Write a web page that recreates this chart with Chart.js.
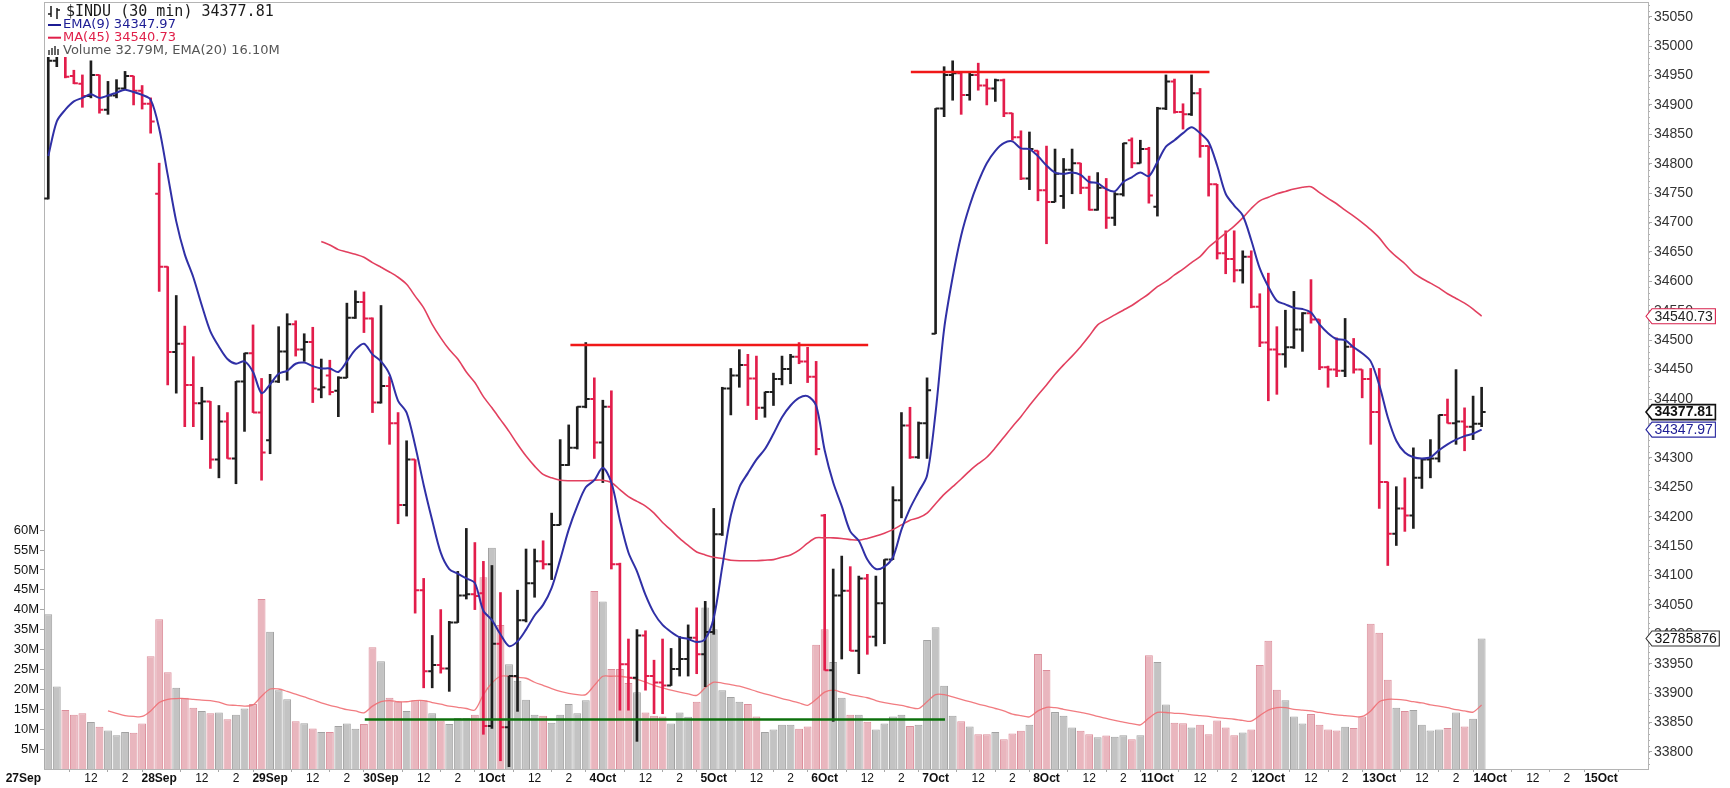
<!DOCTYPE html>
<html>
<head>
<meta charset="utf-8">
<script src="https://cdn.jsdelivr.net/npm/chart.js@4.4.0/dist/chart.umd.min.js"></script>
<style>
  html, body { margin: 0; padding: 0; background: #fff; }
</style>
</head>
<body>
<canvas id="chart" width="1730" height="788"></canvas>
<script>
// 30 min bars, 13 per session
const dayLabels = ["27Sep", "28Sep", "29Sep", "30Sep", "1Oct", "4Oct", "5Oct", "6Oct", "7Oct", "8Oct", "11Oct", "12Oct", "13Oct", "14Oct", "15Oct"];
const barsPerDay = 13;
const hourLabels = [[5, "12"], [9, "2"]];
const slotCount = 188;

const opens = [
  34741, 34975, 34990, 34949, 34936, 34915, 34951, 34892, 34916, 34928, 34949, 34924, 34902,
  34749, 34625, 34480, 34494, 34424, 34393, 34396, 34297, 34362, 34299, 34430, 34478, 34377,
  34330, 34430, 34481, 34527, 34484, 34497, 34416, 34440, 34414, 34436, 34538, 34565, 34537,
  34394, 34422, 34359, 34220, 34297, 34075, 33937, 33948, 33942, 34020, 34066, 34068, 34070,
  33844, 33984, 33842, 33929, 34024, 34087, 34124, 34119, 34186, 34288, 34317, 34387, 34400,
  34326, 34387, 34119, 33949, 33926, 33998, 33929, 33918, 33913, 33941, 33958, 33994, 33966,
  34004, 34170, 34418, 34440, 34458, 34435, 34385, 34412, 34434, 34451, 34472, 34464, 34438,
  34202, 33939, 34066, 34074, 33972, 34095, 33996, 34053, 34127, 34228, 34355, 34301, 34359,
  34511, 34894, 34951, 34954, 34917, 34951, 34933, 34928, 34942, 34886, 34845, 34775, 34822,
  34755, 34735, 34745, 34790, 34801, 34759, 34722, 34759, 34708, 34748, 34840, 34801, 34825,
  34727, 34894, 34940, 34888, 34884, 34920, 34830, 34765, 34648, 34638, 34619, 34642, 34557,
  34496, 34484, 34476, 34488, 34518, 34546, 34535, 34454, 34450, 34448, 34489, 34450, 34434,
  34378, 34259, 34171, 34214, 34202, 34266, 34297, 34299, 34373, 34359, 34362, 34353, 34358
];
const highs = [
  35000, 35010, 34995, 34959, 34951, 34975, 34951, 34940, 34943, 34957, 34949, 34933, 34912,
  34801, 34625, 34576, 34524, 34472, 34420, 34396, 34389, 34377, 34430, 34478, 34526, 34435,
  34442, 34523, 34545, 34533, 34511, 34522, 34468, 34466, 34438, 34563, 34584, 34582, 34538,
  34559, 34438, 34377, 34329, 34297, 34095, 33998, 34042, 34022, 34107, 34180, 34156, 34124,
  34117, 34071, 33929, 34075, 34145, 34145, 34159, 34206, 34331, 34356, 34387, 34496, 34436,
  34398, 34414, 34121, 33992, 34008, 34006, 33956, 33992, 33976, 33996, 34016, 34045, 34056,
  34214, 34420, 34452, 34484, 34476, 34473, 34412, 34444, 34473, 34476, 34496, 34488, 34464,
  34204, 34111, 34133, 34115, 34099, 34102, 34099, 34127, 34251, 34377, 34386, 34361, 34436,
  34894, 34965, 34975, 34954, 34954, 34971, 34944, 34944, 34944, 34886, 34856, 34854, 34822,
  34830, 34825, 34809, 34825, 34801, 34779, 34785, 34775, 34751, 34835, 34844, 34840, 34828,
  34896, 34951, 34944, 34902, 34951, 34928, 34830, 34765, 34686, 34686, 34652, 34652, 34579,
  34614, 34523, 34551, 34583, 34547, 34603, 34535, 34456, 34504, 34537, 34503, 34450, 34452,
  34452, 34259, 34251, 34266, 34317, 34299, 34331, 34373, 34400, 34450, 34385, 34405, 34420
];
const lows = [
  34740, 34965, 34946, 34936, 34896, 34912, 34886, 34884, 34912, 34926, 34900, 34893, 34852,
  34583, 34424, 34410, 34353, 34353, 34331, 34282, 34266, 34299, 34256, 34345, 34377, 34262,
  34307, 34428, 34432, 34473, 34464, 34394, 34402, 34407, 34370, 34436, 34537, 34513, 34377,
  34393, 34323, 34188, 34201, 34036, 33909, 33909, 33934, 33903, 34020, 34060, 34042, 33830,
  33840, 33785, 33775, 33869, 34021, 34063, 34111, 34093, 34186, 34287, 34315, 34385, 34299,
  34258, 34111, 33871, 33871, 33818, 33905, 33865, 33865, 33913, 33929, 33929, 33933, 33911,
  34000, 34168, 34373, 34420, 34389, 34365, 34369, 34389, 34424, 34426, 34460, 34428, 34305,
  33939, 33852, 33958, 33972, 33933, 33966, 33980, 33984, 34127, 34198, 34299, 34299, 34299,
  34511, 34880, 34908, 34884, 34908, 34925, 34900, 34906, 34880, 34840, 34773, 34756, 34737,
  34664, 34735, 34724, 34749, 34749, 34721, 34721, 34690, 34695, 34745, 34793, 34801, 34733,
  34711, 34892, 34886, 34859, 34882, 34811, 34745, 34638, 34613, 34599, 34597, 34555, 34489,
  34397, 34408, 34454, 34486, 34481, 34529, 34450, 34420, 34438, 34438, 34444, 34402, 34323,
  34214, 34117, 34151, 34175, 34180, 34248, 34266, 34293, 34359, 34323, 34312, 34331, 34353
];
const closes = [
  34975, 34990, 34948, 34937, 34915, 34951, 34892, 34916, 34928, 34949, 34924, 34902, 34872,
  34625, 34480, 34494, 34424, 34393, 34396, 34297, 34362, 34299, 34430, 34478, 34377, 34309,
  34430, 34481, 34527, 34484, 34497, 34418, 34420, 34412, 34436, 34538, 34565, 34537, 34394,
  34422, 34359, 34220, 34297, 34075, 33937, 33948, 33942, 34020, 34066, 34068, 34065, 33844,
  33984, 33842, 33929, 34024, 34087, 34124, 34119, 34186, 34288, 34317, 34387, 34400, 34326,
  34387, 34119, 33949, 33926, 33998, 33929, 33918, 33913, 33941, 33958, 33994, 33966, 34004,
  34170, 34418, 34440, 34458, 34435, 34385, 34412, 34434, 34451, 34472, 34464, 34438, 34315,
  33939, 34066, 34074, 33972, 34095, 33996, 34053, 34127, 34228, 34355, 34301, 34359, 34415,
  34894, 34951, 34954, 34917, 34951, 34933, 34928, 34942, 34886, 34845, 34775, 34825, 34755,
  34735, 34783, 34790, 34801, 34759, 34722, 34759, 34708, 34748, 34835, 34801, 34825, 34746,
  34894, 34940, 34888, 34884, 34920, 34830, 34765, 34648, 34638, 34619, 34642, 34557, 34496,
  34484, 34476, 34488, 34518, 34546, 34535, 34454, 34450, 34448, 34489, 34450, 34434, 34378,
  34259, 34171, 34214, 34202, 34266, 34297, 34299, 34373, 34359, 34362, 34353, 34358, 34377.81
];
// volume in millions of shares
const volumes = [
  38.9, 20.7, 14.8, 13.6, 14.0, 11.8, 10.6, 9.7, 8.5, 9.3, 9.1, 11.4, 28.3,
  37.6, 24.3, 20.4, 17.9, 15.4, 14.6, 14.0, 14.2, 12.5, 13.6, 15.2, 16.3, 42.7,
  34.5, 19.8, 17.5, 12.0, 11.5, 10.2, 9.3, 9.3, 10.8, 11.4, 10.1, 11.3, 30.6,
  27.1, 17.9, 16.9, 14.6, 17.3, 17.3, 14.0, 12.2, 11.3, 12.8, 12.8, 13.6, 48.2,
  55.6, 36.2, 26.3, 22.2, 17.4, 13.6, 13.4, 11.6, 13.6, 16.3, 14.0, 17.3, 44.7,
  42.1, 25.1, 25.1, 21.6, 19.3, 14.2, 13.4, 13.2, 11.4, 14.2, 13.1, 16.9, 40.6,
  35.1, 19.8, 18.1, 16.9, 16.3, 13.2, 9.3, 9.9, 11.1, 11.1, 10.1, 10.7, 31.2,
  35.1, 26.9, 17.9, 13.6, 13.6, 11.9, 9.9, 11.4, 13.2, 13.6, 10.8, 11.1, 32.4,
  35.6, 20.9, 13.4, 12.0, 10.7, 8.7, 8.7, 9.3, 7.5, 8.9, 9.6, 11.1, 28.9,
  24.9, 14.3, 13.4, 10.4, 9.6, 8.7, 8.0, 8.4, 8.1, 8.5, 7.5, 8.5, 28.6,
  26.9, 16.2, 11.6, 11.5, 10.4, 11.1, 8.7, 12.2, 10.4, 8.5, 9.2, 9.9, 26.1,
  32.2, 19.9, 17.3, 13.2, 11.4, 13.8, 11.1, 9.9, 9.7, 10.6, 10.3, 13.2, 36.5,
  34.2, 22.4, 15.4, 14.6, 14.8, 11.1, 9.7, 9.9, 10.3, 14.2, 10.7, 12.6, 32.785876
];
const ema9 = [
  34813, 34872, 34892, 34906, 34912, 34918, 34912, 34916, 34921, 34926, 34922, 34917, 34909,
  34860, 34781, 34702, 34646, 34607, 34559, 34515, 34489, 34468, 34460, 34464, 34446, 34410,
  34425, 34443, 34448, 34460, 34462, 34456, 34452, 34452, 34446, 34464, 34484, 34494, 34476,
  34464, 34442, 34397, 34377, 34321, 34254, 34194, 34139, 34111, 34103, 34095, 34087, 34040,
  34024, 34000, 33980, 33988, 34008, 34032, 34050, 34079, 34127, 34178, 34218, 34250, 34262,
  34283, 34258, 34194, 34139, 34107, 34067, 34036, 34016, 34004, 33995, 33992, 33987, 33992,
  34028, 34115, 34202, 34250, 34274, 34297, 34315, 34341, 34369, 34389, 34402, 34405, 34389,
  34313, 34258, 34218, 34175, 34159, 34127, 34111, 34115, 34131, 34178, 34214, 34242, 34270,
  34377, 34519, 34607, 34678, 34729, 34769, 34801, 34822, 34835, 34838, 34826, 34825, 34813,
  34797, 34785, 34783, 34785, 34781, 34769, 34767, 34757, 34753, 34769, 34777, 34785, 34779,
  34803, 34829, 34840, 34852, 34862, 34852, 34837, 34797, 34749, 34729, 34712, 34670, 34622,
  34591, 34567, 34561, 34555, 34553, 34547, 34527, 34512, 34502, 34500, 34488, 34478, 34464,
  34424, 34369, 34329, 34309, 34301, 34299, 34301, 34313, 34323, 34331, 34337, 34341, 34347.97
];
const ma45 = [
  null, null, null, null, null, null, null, null, null, null, null, null, null,
  null, null, null, null, null, null, null, null, null, null, null, null, null,
  null, null, null, null, null, null, 34668, 34662, 34654, 34650, 34646, 34641, 34632,
  34624, 34616, 34607, 34595, 34575, 34555, 34527, 34504, 34484, 34468, 34446, 34428, 34404,
  34385, 34365, 34345, 34323, 34303, 34286, 34272, 34266, 34262, 34261, 34261, 34261, 34262,
  34262, 34258, 34246, 34234, 34226, 34218, 34206, 34190, 34177, 34163, 34151, 34140, 34135,
  34131, 34129, 34126, 34125, 34125, 34125, 34126, 34127, 34131, 34135, 34143, 34155, 34164,
  34164, 34164, 34163, 34161, 34160, 34163, 34167, 34172, 34178, 34186, 34194, 34198, 34206,
  34222, 34238, 34251, 34264, 34278, 34290, 34301, 34317, 34335, 34353, 34370, 34389, 34407,
  34424, 34442, 34458, 34473, 34489, 34507, 34526, 34535, 34543, 34551, 34559, 34569, 34579,
  34591, 34600, 34611, 34621, 34632, 34642, 34658, 34670, 34682, 34694, 34708, 34724, 34737,
  34743, 34749, 34753, 34757, 34760, 34761, 34751, 34741, 34732, 34721, 34711, 34700, 34688,
  34674, 34656, 34642, 34630, 34615, 34605, 34597, 34589, 34579, 34571, 34563, 34553, 34540.73
];
const volEma20 = [
  null, null, null, null, null, null, null, 14.6, 14.0, 13.4, 13.2, 13.2, 14.6,
  16.7, 17.5, 17.7, 17.7, 17.5, 17.3, 17.2, 16.8, 16.1, 16.0, 15.8, 16.1, 18.3,
  20.1, 20.1, 19.5, 18.8, 18.1, 17.4, 16.6, 16.0, 15.5, 14.9, 14.6, 14.1, 15.8,
  16.9, 17.2, 16.9, 16.9, 17.2, 17.2, 16.7, 16.3, 15.8, 15.5, 15.2, 14.8, 18.7,
  21.6, 23.3, 23.3, 23.0, 22.8, 21.8, 21.0, 20.2, 19.5, 19.0, 18.7, 18.7, 21.0,
  23.3, 23.3, 23.3, 23.0, 22.5, 21.8, 21.0, 20.4, 19.8, 19.3, 18.9, 18.5, 20.4,
  21.8, 21.6, 21.2, 20.8, 20.2, 19.5, 18.9, 18.3, 17.7, 17.2, 16.6, 16.0, 17.5,
  19.3, 19.8, 19.3, 18.7, 18.3, 17.9, 17.2, 16.7, 16.3, 16.0, 15.5, 15.2, 16.9,
  18.7, 18.7, 18.1, 17.5, 16.9, 16.3, 15.8, 15.2, 14.6, 13.8, 13.4, 13.1, 14.6,
  15.5, 15.4, 15.0, 14.6, 14.2, 13.8, 13.2, 12.7, 12.2, 11.8, 11.4, 11.1, 12.8,
  14.2, 14.2, 14.0, 13.9, 13.6, 13.4, 13.2, 12.9, 12.7, 12.5, 12.2, 12.0, 13.4,
  14.8, 15.4, 15.4, 15.0, 14.8, 14.6, 14.2, 13.9, 13.6, 13.4, 13.2, 13.2, 14.6,
  16.9, 17.5, 17.5, 17.3, 16.9, 16.6, 16.1, 15.8, 15.4, 14.9, 14.6, 14.3, 16.10
];

const priceTicks = [33800, 33850, 33900, 33950, 34000, 34050, 34100, 34150, 34200, 34250, 34300, 34350, 34400,
  34450, 34500, 34550, 34600, 34650, 34700, 34750, 34800, 34850, 34900, 34950, 35000, 35050];
const volumeTicks = [5, 10, 15, 20, 25, 30, 35, 40, 45, 50, 55, 60];

// drawn trend lines: [bar, price]
const topLine = [[101.1, 34956], [136.1, 34956]];
const midLine = [[61.2, 34492], [96.1, 34492]];
const floorLine = [[37.1, 33855], [105.1, 33855]];

const lastIdx = closes.length - 1;
const barIdx = closes.map((c, i) => i);
const isUp = closes.map((c, i) => i === 0 || c >= closes[i - 1]);
const priceInk = isUp.map(u => u ? "#1e1e1e" : "#e21d4b");
const volFill = isUp.map(u => u ? "#c3c3c3" : "#e9b6be");
const volEdge = isUp.map(u => u ? "#a2a2a2" : "#dc8e9b");
const toPoints = arr => arr.map(p => ({ x: p[0], y: p[1] }));

const xTicks = [];
dayLabels.forEach((day, d) => {
  const first = d * barsPerDay;
  xTicks.push({ value: first, text: day, bold: true });
  hourLabels.forEach(([off, t]) => {
    if (first + off < slotCount - 8) xTicks.push({ value: first + off, text: t, bold: false });
  });
});
xTicks.sort((a, b) => a.value - b.value);

// open / close ticks on the OHLC bars
const ohlcTicks = {
  id: "ohlcTicks",
  afterDatasetDraw(chart, args) {
    if (chart.data.datasets[args.index].label !== "$INDU") return;
    const ctx = chart.ctx, y = chart.scales.yp, area = chart.chartArea;
    ctx.save();
    ctx.beginPath();
    ctx.rect(area.left, area.top, area.right - area.left, area.bottom - area.top);
    ctx.clip();
    ctx.lineWidth = 2;
    args.meta.data.forEach((el, i) => {
      const yo = y.getPixelForValue(opens[i]);
      const yc = y.getPixelForValue(closes[i]);
      ctx.strokeStyle = priceInk[i];
      ctx.beginPath();
      ctx.moveTo(el.x - 4, yo);
      ctx.lineTo(el.x, yo);
      ctx.moveTo(el.x, yc);
      ctx.lineTo(el.x + 4, yc);
      ctx.stroke();
    });
    ctx.restore();
  }
};

function drawFlag(ctx, x, y, text, edge, ink, bold) {
  ctx.font = (bold ? "bold " : "") + "14px 'Liberation Sans'";
  const w = ctx.measureText(text).width + 5;
  const x1 = x + 6, h = 7.5;
  ctx.beginPath();
  ctx.moveTo(x, y);
  ctx.lineTo(x1, y - h);
  ctx.lineTo(x1 + w, y - h);
  ctx.lineTo(x1 + w, y + h);
  ctx.lineTo(x1, y + h);
  ctx.closePath();
  ctx.fillStyle = "#fff";
  ctx.fill();
  ctx.lineWidth = bold ? 1.6 : 1.1;
  ctx.strokeStyle = edge;
  ctx.stroke();
  ctx.fillStyle = ink;
  ctx.textAlign = "left";
  ctx.textBaseline = "middle";
  ctx.fillText(text, x1 + 2.5, y + 0.5);
}

const overlay = {
  id: "overlay",
  afterDraw(chart) {
    const ctx = chart.ctx, a = chart.chartArea;
    const xs = chart.scales.x, yp = chart.scales.yp, yv = chart.scales.yv;
    ctx.save();

    // frame top + minor ticks on price axis
    ctx.strokeStyle = "#b4b4b4";
    ctx.lineWidth = 1;
    ctx.beginPath();
    ctx.moveTo(a.left, a.top + 0.5);
    ctx.lineTo(a.right, a.top + 0.5);
    for (let p = 33780; p <= 35070; p += 10) {
      const py = Math.round(yp.getPixelForValue(p)) + 0.5;
      ctx.moveTo(a.right, py);
      ctx.lineTo(a.right + 2, py);
    }
    ctx.stroke();

    // date / hour labels under the axis
    ctx.fillStyle = "#111";
    ctx.textBaseline = "middle";
    xTicks.forEach(t => {
      ctx.font = (t.bold ? "bold " : "") + "12px 'Liberation Sans'";
      const px = xs.getPixelForValue(t.value);
      const half = ctx.measureText(t.text).width / 2;
      if (px - half < a.left) {
        ctx.textAlign = "right";
        ctx.fillText(t.text, a.left - 3, a.bottom + 10);
      } else {
        ctx.textAlign = "center";
        ctx.fillText(t.text, px, a.bottom + 10);
      }
    });

    // legend block
    const rows = [
      { text: "$INDU (30 min) " + closes[lastIdx], color: "#1a1a1a", font: "15px 'DejaVu Sans Mono'", y: 12.5 },
      { text: "EMA(9) " + ema9[lastIdx].toFixed(2), color: "#1c1c94", font: "13px 'DejaVu Sans'", y: 25 },
      { text: "MA(45) " + ma45[lastIdx].toFixed(2), color: "#e0204a", font: "13px 'DejaVu Sans'", y: 37.7 },
      { text: "Volume " + volumes[lastIdx].toFixed(2) + "M, EMA(20) " + volEma20[lastIdx].toFixed(2) + "M", color: "#555", font: "13px 'DejaVu Sans'", y: 50.5 }
    ];
    ctx.fillStyle = "#fff";
    ctx.fillRect(a.left + 1, 4, 234, 53);
    ctx.textAlign = "left";
    ctx.textBaseline = "middle";
    rows.forEach((r, k) => {
      ctx.font = r.font;
      ctx.fillStyle = r.color;
      ctx.fillText(r.text, k === 0 ? 66 : 63, r.y);
    });
    // row icons
    ctx.strokeStyle = "#1a1a1a";
    ctx.lineWidth = 1.5;
    ctx.beginPath();
    ctx.moveTo(51, 6); ctx.lineTo(51, 17); ctx.moveTo(48, 14); ctx.lineTo(51, 14);
    ctx.moveTo(57, 8); ctx.lineTo(57, 19); ctx.moveTo(57, 10); ctx.lineTo(60, 10);
    ctx.stroke();
    ctx.fillStyle = "#1c1c94";
    ctx.fillRect(48, 24, 13, 2);
    ctx.fillStyle = "#e0204a";
    ctx.fillRect(48, 36.7, 13, 2);
    ctx.fillStyle = "#666";
    [[48, 5], [51, 7], [54, 9], [57, 6]].forEach(([bx, bh]) => ctx.fillRect(bx, 55 - bh, 2, bh));

    // last value flags on the right axis
    const fx = a.right - 2;
    drawFlag(ctx, fx, yv.getPixelForValue(volumes[lastIdx]), String(Math.round(volumes[lastIdx] * 1e6)), "#333", "#111", false);
    drawFlag(ctx, fx, yp.getPixelForValue(ma45[lastIdx]), ma45[lastIdx].toFixed(2), "#d8214c", "#222", false);
    drawFlag(ctx, fx, yp.getPixelForValue(ema9[lastIdx]), ema9[lastIdx].toFixed(2), "#2a2aa0", "#1c1c94", false);
    drawFlag(ctx, fx, yp.getPixelForValue(closes[lastIdx]), closes[lastIdx].toFixed(2), "#111", "#111", true);
    ctx.restore();
  }
};

const ctx = document.getElementById("chart").getContext("2d");
const myChart = new Chart(ctx, {
  type: "bar",
  data: {
    labels: barIdx,
    datasets: [
      {
        type: "line",
        label: "Top",
        data: toPoints(topLine),
        yAxisID: "yp",
        borderColor: "#f01818",
        borderWidth: 2.5,
        pointRadius: 0,
        order: 0,
      },
      {
        type: "line",
        label: "Middle",
        data: toPoints(midLine),
        yAxisID: "yp",
        borderColor: "#f01818",
        borderWidth: 2.5,
        pointRadius: 0,
        order: 0,
      },
      {
        type: "line",
        label: "Floor",
        data: toPoints(floorLine),
        yAxisID: "yp",
        borderColor: "#0c700c",
        borderWidth: 2.5,
        pointRadius: 0,
        order: 0,
      },
      {
        type: "line",
        label: "EMA(9)",
        data: ema9,
        yAxisID: "yp",
        borderColor: "#3030a6",
        borderWidth: 2,
        pointRadius: 0,
        tension: 0.3,
        order: 1,
      },
      {
        type: "line",
        label: "MA(45)",
        data: ma45,
        yAxisID: "yp",
        borderColor: "#e2405f",
        borderWidth: 1.6,
        pointRadius: 0,
        tension: 0.3,
        order: 2,
      },
      {
        label: "$INDU",
        data: lows.map((l, i) => [l, highs[i]]),
        yAxisID: "yp",
        backgroundColor: priceInk,
        barThickness: 2,
        grouped: false,
        order: 3,
      },
      {
        type: "line",
        label: "Volume EMA(20)",
        data: volEma20,
        yAxisID: "yv",
        borderColor: "rgba(240,110,115,0.9)",
        borderWidth: 1.3,
        pointRadius: 0,
        tension: 0.3,
        order: 4,
      },
      {
        label: "Volume",
        data: volumes,
        yAxisID: "yv",
        backgroundColor: volFill,
        borderColor: volEdge,
        borderWidth: 1,
        barPercentage: 0.92,
        categoryPercentage: 1,
        grouped: false,
        order: 5,
      },
    ],
  },
  options: {
    responsive: false,
    animation: false,
    layout: { padding: { top: 2, left: 0, right: 0, bottom: 0 } },
    plugins: { legend: { display: false }, tooltip: { enabled: false } },
    scales: {
      x: {
        type: "linear",
        offset: false,
        min: -0.5,
        max: slotCount - 0.5,
        bounds: "data",
        afterBuildTicks: s => { s.ticks = xTicks.map(t => ({ value: t.value })); },
        afterFit: s => { s.height = 19; s.paddingLeft = 0; s.paddingRight = 0; },
        grid: { drawOnChartArea: false, tickLength: 3, color: "#a8a8a8" },
        border: { color: "#b4b4b4" },
        ticks: { display: false, autoSkip: false, maxRotation: 0 },
      },
      yp: {
        type: "linear",
        position: "right",
        min: 33771,
        max: 35075,
        bounds: "data",
        afterBuildTicks: s => { s.ticks = priceTicks.map(v => ({ value: v })); },
        afterFit: s => { s.width = 82; s.paddingTop = 0; s.paddingBottom = 0; },
        grid: { drawOnChartArea: false, tickLength: 4, color: "#a8a8a8" },
        border: { color: "#b4b4b4" },
        ticks: { padding: 2, color: "#333", font: { family: "Liberation Sans", size: 14 }, callback: v => String(v) },
      },
      yv: {
        type: "linear",
        position: "left",
        min: 0,
        max: 192.7,
        bounds: "data",
        afterBuildTicks: s => { s.ticks = volumeTicks.map(v => ({ value: v })); },
        afterFit: s => { s.width = 44; s.paddingTop = 0; s.paddingBottom = 0; },
        grid: { drawOnChartArea: false, tickLength: 4, color: "#a8a8a8" },
        border: { color: "#b4b4b4" },
        ticks: { padding: 1, color: "#111", font: { family: "Liberation Sans", size: 13 }, callback: v => v + "M" },
      },
    },
  },
  plugins: [ohlcTicks, overlay],
});
</script>
</body>
</html>
